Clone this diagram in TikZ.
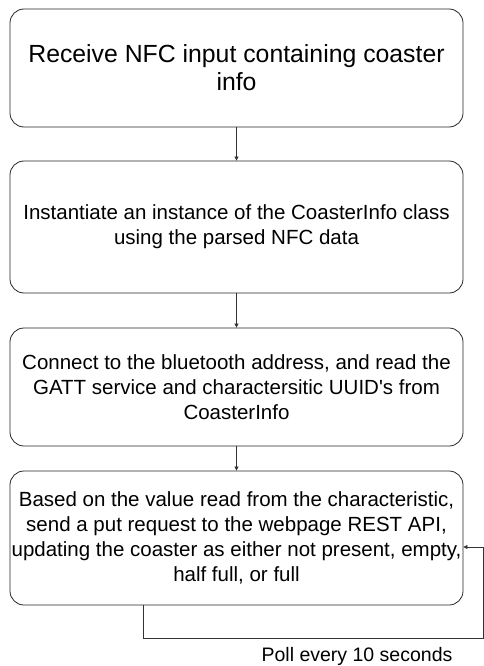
\documentclass[tikz,border=0pt]{standalone}
\usepackage{fontspec}
\setmainfont{Liberation Sans}
\usetikzlibrary{arrows.meta}
\begin{document}
\begin{tikzpicture}[x=1pt,y=-1pt,
  stepbox/.style={draw=black!85, line width=0.8pt, rounded corners=14pt,
    minimum width=453pt, align=center, inner sep=0pt},
  flow/.style={draw=black!80, line width=0.7pt, -{Triangle[length=4pt,width=4pt]}},
  lbl/.style={font=\fontsize{20.5}{25}\selectfont}]
\useasboundingbox (0,0) rectangle (483,666);
\node[stepbox, minimum height=118pt, font=\fontsize{24.8}{28}\selectfont] (s1) at (236.5,68)
  {Receive NFC input containing coaster\\info};
\node[stepbox, minimum height=132pt, lbl] (s2) at (236.5,227)
  {Instantiate an instance of the CoasterInfo class\\using the parsed NFC data};
\node[stepbox, minimum height=118pt, lbl] (s3) at (236.5,387)
  {Connect to the bluetooth address, and read the\\GATT service and charactersitic UUID\textquotesingle s from\\CoasterInfo};
\node[stepbox, minimum height=134pt, lbl] (s4) at (236.5,538)
  {Based on the value read from the characteristic,\\send a put request to the webpage REST API,\\updating the coaster as either not present, empty,\\half full, or full};
\draw[flow] (s1) -- (s2);
\draw[flow] (s2) -- (s3);
\draw[flow] (s3) -- (s4);
\coordinate (loopdown) at (143,638);
\coordinate (loopright) at (483,638);
\coordinate (loopback) at (483,547);
\draw[flow] (s4.south -| loopdown) -- (loopdown) -- (loopright) -- (loopback) -- (loopback -| s4.east);
\node[font=\fontsize{19.5}{21}\selectfont] (poll) at (357,656) {Poll every 10 seconds};
\end{tikzpicture}
\end{document}
